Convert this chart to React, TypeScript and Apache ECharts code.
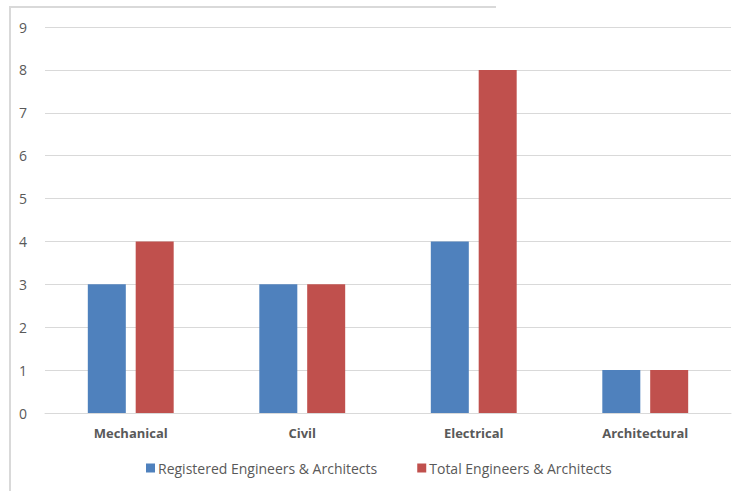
import React, { useEffect, useRef } from "react";
import * as echarts from "echarts";

const categories = ["Mechanical", "Civil", "Electrical", "Architectural"];
const registered = [3, 3, 4, 1];
const total = [4, 3, 8, 1];
const seriesNames = ["Registered Engineers & Architects", "Total Engineers & Architects"];
const yTicks = [0, 1, 2, 3, 4, 5, 6, 7, 8, 9];

export default function App() {
  const ref = useRef<HTMLDivElement>(null);
  useEffect(() => {
    document.body.style.margin = "0";
    const chart = echarts.init(ref.current!, null, { renderer: "svg" });
    const font = "Open Sans, Liberation Sans, Arial, sans-serif";
    chart.setOption({
      animation: false,
      backgroundColor: "#ffffff",
      grid: { left: 45, right: 5, top: 27, bottom: 78, containLabel: false },
      xAxis: {
        type: "category",
        data: categories,
        axisLine: { show: true, lineStyle: { color: "#d9d9d9", width: 1 } },
        axisTick: { show: false },
        axisLabel: { color: "#595959", fontSize: 13, fontWeight: "bold", fontFamily: font, margin: 13 },
      },
      yAxis: {
        type: "value",
        min: yTicks[0],
        max: yTicks[yTicks.length - 1],
        interval: 1,
        axisLine: { show: false },
        axisTick: { show: false },
        axisLabel: { color: "#595959", fontSize: 14, fontFamily: font, margin: 18 },
        splitLine: { lineStyle: { color: "#d9d9d9", width: 1 } },
      },
      legend: {
        bottom: 11,
        left: 141,
        itemWidth: 9,
        itemHeight: 9,
        itemGap: 40,
        itemStyle: { borderWidth: 0 },
        icon: "rect",
        textStyle: { color: "#595959", fontSize: 14, fontFamily: font, padding: [0, 0, 0, -2] },
        data: seriesNames,
      },
      graphic: [
        { type: "line", shape: { x1: 10, y1: 7, x2: 496, y2: 7 }, style: { stroke: "#d9d9d9", lineWidth: 2 } },
        { type: "line", shape: { x1: 10, y1: 6, x2: 10, y2: 491 }, style: { stroke: "#d9d9d9", lineWidth: 2 } },
      ],
      series: [
        {
          name: seriesNames[0],
          type: "bar",
          data: registered,
          barWidth: 38,
          barGap: "26%",
          itemStyle: { color: "#4F81BD" },
        },
        {
          name: seriesNames[1],
          type: "bar",
          data: total,
          barWidth: 38,
          itemStyle: { color: "#C0504D" },
        },
      ],
    });
    return () => chart.dispose();
  }, []);
  return <div ref={ref} style={{ width: 736, height: 491 }} />;
}
